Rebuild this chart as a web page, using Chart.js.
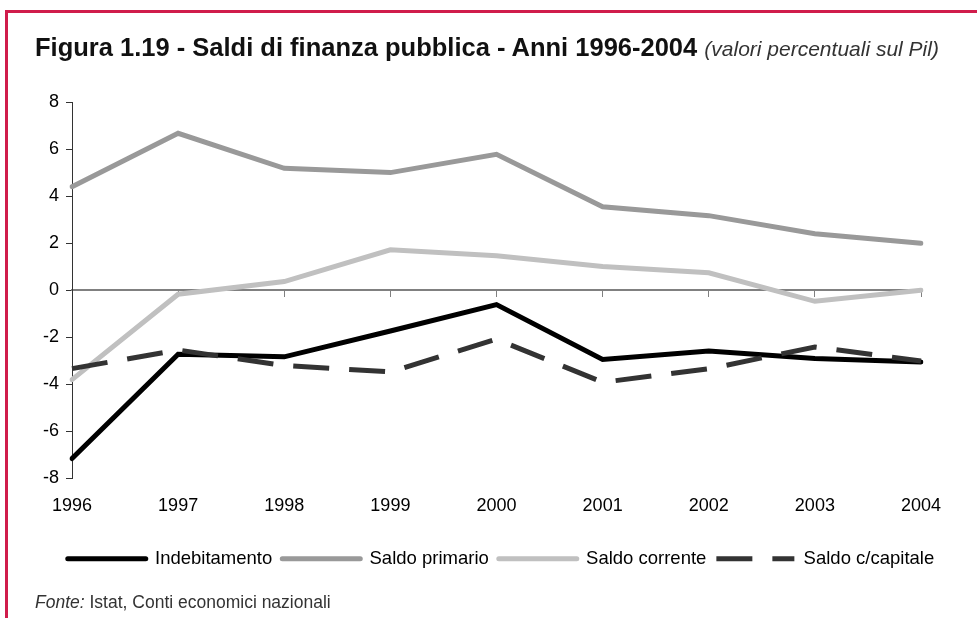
<!DOCTYPE html>
<html>
<head>
<meta charset="utf-8">
<script src="https://cdn.jsdelivr.net/npm/chart.js@4/dist/chart.umd.min.js"></script>
<style>
  html, body { margin: 0; padding: 0; background: #fff; }
  #wrap { position: relative; width: 977px; height: 618px; overflow: hidden; background: #fff; font-family: "Liberation Sans", Arial, sans-serif; }
  #frame { position: absolute; left: 5px; top: 10px; width: 1000px; height: 700px; border-top: 3px solid #d01c4b; border-left: 3px solid #d01c4b; box-sizing: border-box; }
  #title { position: absolute; left: 35px; top: 33px; font-size: 25.5px; line-height: 28px; color: #111; white-space: nowrap; }
  #title b { font-weight: bold; }
  #title i { font-weight: normal; color: #333; font-size: 21px; }
  #source { position: absolute; left: 35px; top: 592px; font-size: 17.5px; line-height: 20px; color: #333; white-space: nowrap; }
  canvas { position: absolute; left: 0; top: 0; }
</style>
</head>
<body>
<div id="wrap">
  <div id="frame"></div>
  <canvas id="c" width="977" height="618"></canvas>
  <div id="title"><b>Figura 1.19 - Saldi di finanza pubblica - Anni 1996-2004</b> <i>(valori percentuali sul Pil)</i></div>
  <div id="source"><i>Fonte:</i> Istat, Conti economici nazionali</div>
</div>
<script>
const years = ['1996','1997','1998','1999','2000','2001','2002','2003','2004'];
const indebitamento   = [-7.15, -2.72, -2.83, -1.73, -0.61, -2.94, -2.58, -2.90, -3.05];
const saldoPrimario   = [4.40, 6.67, 5.18, 5.00, 5.78, 3.55, 3.17, 2.40, 2.00];
const saldoCorrente   = [-3.80, -0.17, 0.37, 1.72, 1.47, 1.01, 0.74, -0.47, 0.00];
const saldoCapitale   = [-3.33, -2.54, -3.20, -3.47, -2.08, -3.91, -3.34, -2.41, -3.01];
const yTicks = [-8, -6, -4, -2, 0, 2, 4, 6, 8];

const FONT = '"Liberation Sans", Arial, sans-serif';

new Chart(document.getElementById('c'), {
  type: 'line',
  data: {
    labels: years,
    datasets: [
      { label: 'Indebitamento', data: indebitamento, borderColor: '#000000', backgroundColor: '#000000', borderWidth: 5, borderCapStyle: 'round', order: 4 },
      { label: 'Saldo primario', data: saldoPrimario, borderColor: '#999999', backgroundColor: '#999999', borderWidth: 5, borderCapStyle: 'round', order: 3 },
      { label: 'Saldo corrente', data: saldoCorrente, borderColor: '#c0c0c0', backgroundColor: '#c0c0c0', borderWidth: 5, borderCapStyle: 'round', order: 2 },
      { label: 'Saldo c/capitale', data: saldoCapitale, borderColor: '#333333', backgroundColor: '#333333', borderWidth: 5, borderDash: [36, 20], borderCapStyle: 'butt', order: 1 }
    ]
  },
  options: {
    responsive: false,
    animation: false,
    devicePixelRatio: 1,
    elements: { point: { radius: 0, hoverRadius: 0 }, line: { tension: 0, borderJoinStyle: 'miter' } },
    layout: { padding: { left: 25, right: 0, top: 102, bottom: 40 } },
    plugins: {
      title: { display: false },
      tooltip: { enabled: false },
      legend: {
        display: true,
        position: 'bottom',
        labels: {
          usePointStyle: true,
          pointStyle: 'line',
          pointStyleWidth: 78,
          boxHeight: 18,
          padding: 10,
          color: '#000',
          font: { family: FONT, size: 18.5 },
          sort: (a, b) => a.datasetIndex - b.datasetIndex,
          generateLabels: chart => {
            const items = Chart.defaults.plugins.legend.labels.generateLabels(chart);
            items.forEach(it => {
              const ds = chart.data.datasets[it.datasetIndex];
              it.lineDash = ds.borderDash || [];
              it.lineWidth = 5;
              it.strokeStyle = ds.borderColor;
              it.fillStyle = ds.borderColor;
              it.lineCap = ds.borderCapStyle;
              it.pointStyle = 'line';
            });
            return items;
          }
        }
      }
    },
    scales: {
      x: {
        type: 'category',
        position: 'bottom',
        offset: false,
        grid: { display: false, drawTicks: false },
        border: { display: false },
        ticks: { color: '#000', font: { family: FONT, size: 18 }, padding: 17, maxRotation: 0, autoSkip: false },
        afterFit: s => { s.height = 61; }
      },
      x0: {
        type: 'category',
        axis: 'x',
        position: { y: 0 },
        offset: false,
        grid: { display: true, drawOnChartArea: false, drawTicks: true, tickLength: 6, color: '#808080', tickColor: '#808080', lineWidth: 1 },
        border: { display: true, color: '#808080', width: 2 },
        ticks: { display: false }
      },
      y: {
        min: -8,
        max: 8,
        afterBuildTicks: s => { s.ticks = yTicks.map(v => ({ value: v })); },
        grid: { display: true, drawOnChartArea: false, drawTicks: true, tickLength: 6, color: '#333333', tickColor: '#333333' },
        border: { display: true, color: '#333333', width: 1 },
        ticks: { color: '#000', font: { family: FONT, size: 18 }, padding: 7 },
        afterFit: s => { s.width = 47; }
      },
      yRight: {
        type: 'linear',
        position: 'right',
        display: true,
        grid: { display: false, drawTicks: false },
        border: { display: false },
        ticks: { display: false },
        afterFit: s => { s.width = 56; }
      }
    }
  }
});
</script>
</body>
</html>
